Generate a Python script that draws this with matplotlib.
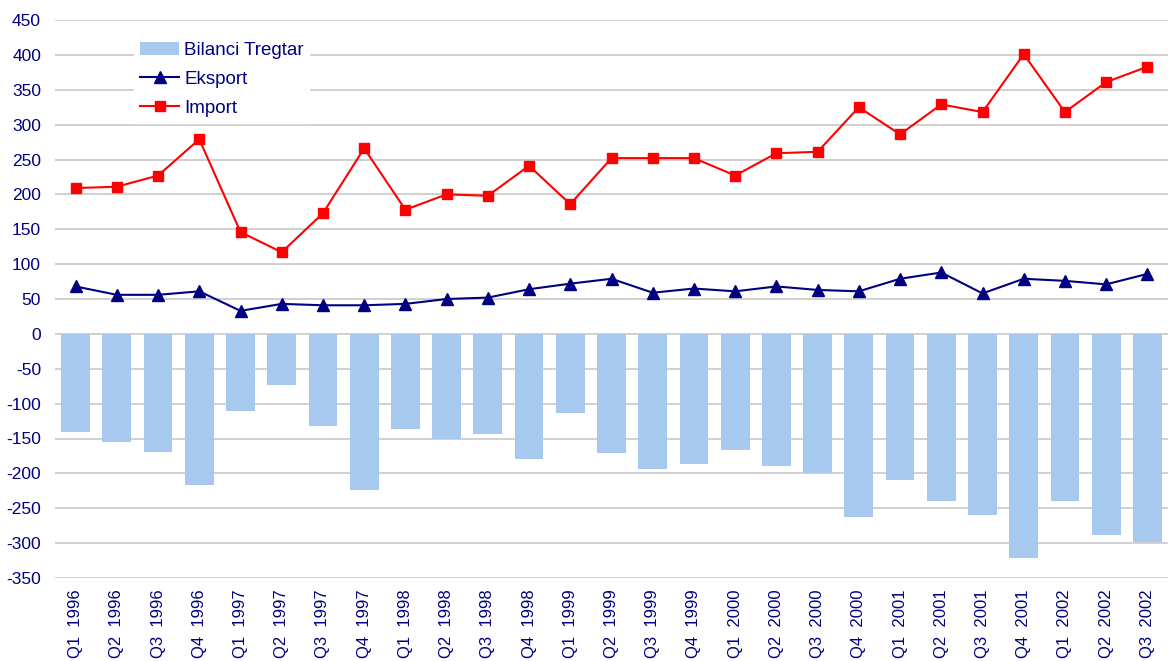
import matplotlib.pyplot as plt
import numpy as np

quarters = ["Q1  1996", "Q2  1996", "Q3  1996", "Q4  1996",
            "Q1  1997", "Q2  1997", "Q3  1997", "Q4  1997",
            "Q1  1998", "Q2  1998", "Q3  1998", "Q4  1998",
            "Q1  1999", "Q2  1999", "Q3  1999", "Q4  1999",
            "Q1  2000", "Q2  2000", "Q3  2000", "Q4  2000",
            "Q1  2001", "Q2  2001", "Q3  2001", "Q4  2001",
            "Q1  2002", "Q2  2002", "Q3  2002"]

bilanci = [-140, -155, -170, -217, -111, -73, -132, -224,
           -136, -150, -143, -179, -113, -171, -194, -186,
           -166, -190, -199, -262, -209, -240, -260, -322,
           -240, -289, -299]

eksport = [68, 56, 56, 61, 33, 43, 41, 41,
           43, 50, 52, 64, 72, 79, 59, 65,
           61, 68, 63, 61, 79, 88, 58, 79,
           76, 71, 86]

importi = [209, 211, 227, 279, 146, 117, 173, 266,
           178, 200, 198, 241, 186, 252, 252, 252,
           227, 259, 261, 325, 286, 329, 318, 401,
           318, 361, 383]

navy = "#000080"
plt.rcParams['font.family'] = ['Liberation Sans', 'DejaVu Sans']
plt.rcParams['axes.unicode_minus'] = False

fig = plt.figure(figsize=(11.68, 6.61), dpi=100)
ax = fig.add_axes([55 / 1168, 83 / 661, 1113 / 1168, 558 / 661])

x = np.arange(len(quarters))
b = ax.bar(x, bilanci, width=0.7, color="#a7c9ee", label="Bilanci Tregtar", zorder=2)
le, = ax.plot(x, eksport, color=navy, marker="^", markersize=8, linewidth=1.5,
              label="Eksport", zorder=3)
li, = ax.plot(x, importi, color="#ff0000", marker="s", markersize=7, linewidth=1.5,
              label="Import", zorder=3)

ax.set_xlim(-0.5, len(quarters) - 0.5)
ax.set_ylim(-350, 450)
ax.set_yticks(np.arange(-350, 451, 50))
ax.grid(axis="y", color="#c8c8c8", linewidth=1.2, zorder=0)
ax.set_axisbelow(True)
for s in ax.spines.values():
    s.set_visible(False)

ax.set_xticks(x)
ax.set_xticklabels(quarters, rotation=90, fontsize=12, color=navy)
ax.tick_params(axis="y", labelsize=12.5, labelcolor=navy, length=0, pad=10)
ax.tick_params(axis="x", length=0, pad=8)

leg = ax.legend([b, le, li], ["Bilanci Tregtar", "Eksport", "Import"],
                loc="upper left", bbox_to_anchor=(0.0714, 0.9713), borderaxespad=0,
                frameon=True, fancybox=False, fontsize=13.5, labelcolor=navy,
                handlelength=2.1, handleheight=0.7, handletextpad=0.25,
                labelspacing=0.64, borderpad=0.3)
leg.get_frame().set_edgecolor("white")
leg.get_frame().set_facecolor("white")
leg.get_frame().set_alpha(1)

fig.savefig("out.png", dpi=100)
